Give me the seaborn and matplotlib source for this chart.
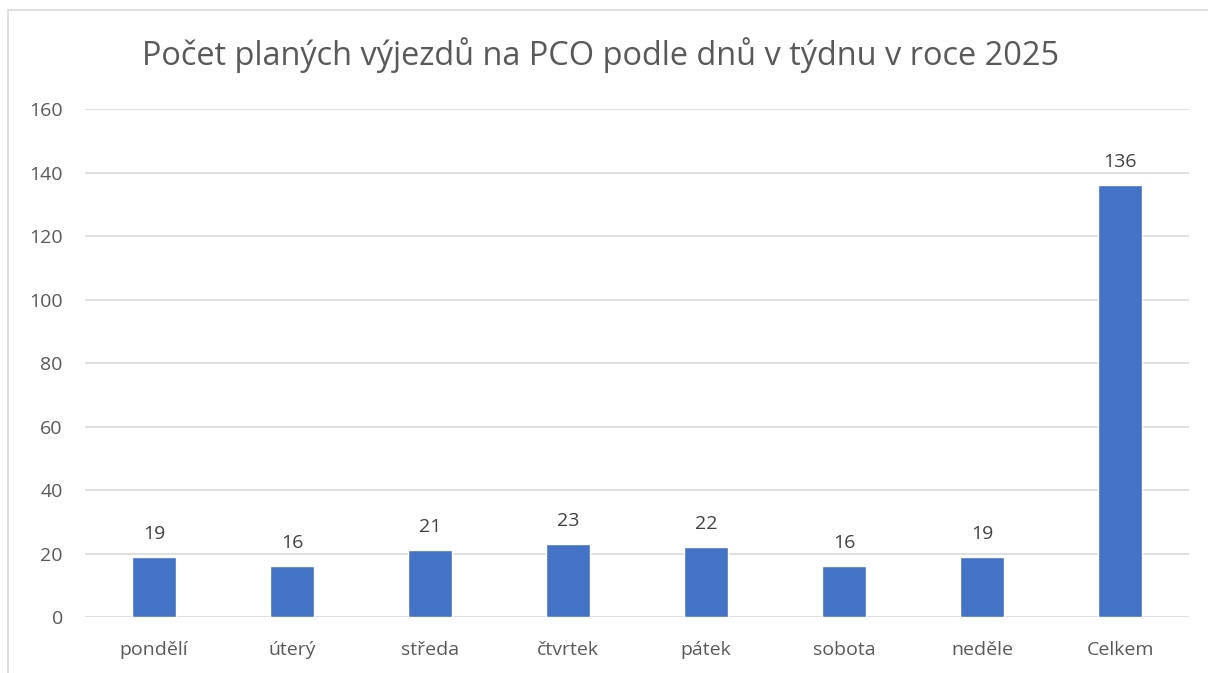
import matplotlib
matplotlib.use('Agg')
import matplotlib.pyplot as plt
import seaborn as sns
import pandas as pd

days = ['pondělí', 'úterý', 'středa', 'čtvrtek', 'pátek', 'sobota', 'neděle', 'Celkem']
counts = [19, 16, 21, 23, 22, 16, 19, 136]
title = 'Počet planých výjezdů na PCO podle dnů v týdnu v roce 2025'

sns.set_theme(style='white')
plt.rcParams['font.family'] = ['Open Sans', 'DejaVu Sans']

df = pd.DataFrame({'den': days, 'pocet': counts})

fig = plt.figure(figsize=(12.08, 6.73), dpi=100)
ax = fig.add_axes([0.0704, 0.0832, 0.9139, 0.7548])

sns.barplot(data=df, x='den', y='pocet', color='#4472C4', width=0.32,
            saturation=1, ax=ax, zorder=3)

ax.set_ylim(0, 160)
ax.set_yticks(range(0, 161, 20))
ax.grid(axis='y', color='#D9D9D9', linewidth=1.2, zorder=0)
ax.set_axisbelow(True)
for s in ax.spines.values():
    s.set_visible(False)
ax.set_xlabel('')
ax.set_ylabel('')
ax.tick_params(axis='both', length=0, labelsize=14, colors='#595959')
ax.tick_params(axis='x', pad=17)
ax.tick_params(axis='y', pad=16)

for c in ax.containers:
    ax.bar_label(c, labels=[str(v) for v in counts], padding=10, fontsize=14, color='#404040')

fig.text(0.497, 0.918, title, ha='center', va='center', fontsize=23.4, color='#595959')

border = plt.Rectangle((8 / 1208, -0.1), 1.2, 1 - 10 / 673 + 0.1, transform=fig.transFigure,
                       fill=False, edgecolor='#D9D9D9', linewidth=1.2)
fig.add_artist(border)

fig.savefig('out.png', dpi=100)
